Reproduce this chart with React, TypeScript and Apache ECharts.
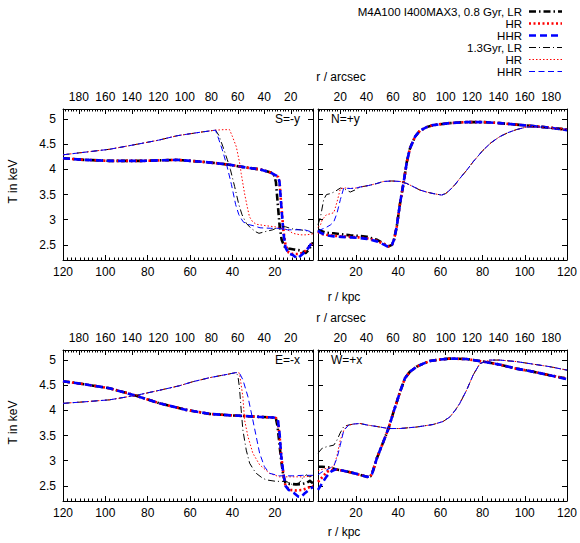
import React, { useEffect, useRef } from 'react';
import * as echarts from 'echarts';

type Pt = [number, number];

const FONT = '"Liberation Sans", Arial, sans-serif';
const R_MIN = 2;
const R_MAX = 120;
const ARCSEC_PER_KPC = 1.6;
const T_MIN = 2.2;
const T_MAX = 5.2;
const kpcTicks = [20, 40, 60, 80, 100, 120];
const arcsecTicks = [20, 40, 60, 80, 100, 120, 140, 160, 180];
const tempTicks = [2.5, 3, 3.5, 4, 4.5, 5];

const legendLabels = ['M4A100 I400MAX3, 0.8 Gyr, LR', 'HR', 'HHR', '1.3Gyr, LR', 'HR', 'HHR'];

// ---------- S = -y ----------
const S_LR08: Pt[] = [[120,4.22],[110,4.19],[98,4.17],[82,4.17],[66,4.19],[54,4.15],[47,4.12],[41,4.09],[34,4.04],[27,4.0],[22,3.94],[20.5,3.9],[19.5,3.75],[18.6,3.3],[17.8,2.9],[16.8,2.6],[15.5,2.47],[13.5,2.43],[11,2.41],[8,2.39],[5.5,2.34],[4,2.4],[2,2.55]];
const S_HR08: Pt[] = [[120,4.22],[110,4.19],[98,4.17],[82,4.17],[66,4.19],[54,4.15],[47,4.12],[41,4.09],[34,4.04],[27,4.0],[22,3.94],[20.5,3.9],[19.5,3.88],[18.5,3.85],[17.8,3.75],[17,3.3],[16,2.8],[15,2.5],[13.5,2.35],[11.5,2.32],[9,2.32],[7,2.34],[5,2.4],[3.5,2.48],[2,2.55]];
const S_HHR08: Pt[] = [[120,4.22],[110,4.19],[98,4.17],[82,4.17],[66,4.19],[54,4.15],[47,4.12],[41,4.09],[34,4.04],[27,4.0],[22,3.94],[20.5,3.9],[19.5,3.88],[18.5,3.86],[17.8,3.75],[17,3.3],[16,2.75],[15,2.45],[13.5,2.33],[11.5,2.3],[9.5,2.23],[8,2.28],[6,2.35],[4,2.45],[2,2.58]];
const S_LR13: Pt[] = [[120,4.29],[110,4.34],[98,4.4],[85,4.5],[75,4.58],[66,4.67],[55,4.74],[48,4.78],[46.5,4.68],[44.5,4.45],[42.5,4.2],[41,4.0],[39,3.66],[37,3.3],[35.5,3.1],[33.5,2.93],[31.5,2.84],[29,2.76],[27.5,2.73],[24,2.77],[21,2.8],[18,2.86],[15,2.86],[12,2.82],[8,2.8],[5,2.78],[2,2.73]];
const S_HR13: Pt[] = [[120,4.29],[110,4.34],[98,4.4],[85,4.5],[75,4.58],[66,4.67],[55,4.74],[48,4.78],[44,4.79],[41.4,4.79],[40,4.65],[38.2,4.45],[36.5,4.1],[35.9,3.92],[34.3,3.52],[33,3.25],[32,3.06],[30.5,2.96],[28.8,2.91],[24,2.88],[20,2.86],[17.8,2.84],[14,2.8],[11.5,2.73],[8,2.7],[5,2.7],[2,2.72]];
const S_HHR13: Pt[] = [[120,4.29],[110,4.34],[98,4.4],[85,4.5],[75,4.58],[66,4.67],[55,4.74],[48,4.78],[46.5,4.6],[44.5,4.35],[42.5,4.05],[40.5,3.7],[38.5,3.3],[37,3.1],[35,2.96],[33,2.91],[30,2.88],[27,2.84],[22,2.83],[18,2.83],[14,2.8],[10,2.8],[6,2.8],[2,2.75]];

// ---------- N = +y ----------
const N_LR08: Pt[] = [[2,2.8],[3.2,2.78],[6,2.74],[9.5,2.73],[13,2.71],[17.3,2.69],[21,2.68],[25.2,2.66],[30,2.6],[33,2.53],[35.4,2.47],[37,2.5],[38,2.6],[39.3,2.86],[40.9,3.33],[42.5,3.72],[44.1,4.15],[45.6,4.42],[48,4.65],[50.3,4.77],[53.5,4.84],[56.6,4.88],[64.5,4.92],[72.4,4.94],[80.2,4.94],[88.1,4.92],[96,4.89],[103.8,4.86],[111.7,4.83],[120,4.79]];
const N_HR08: Pt[] = [[2,2.76],[3.2,2.72],[6,2.7],[9.5,2.68],[13,2.67],[17.3,2.66],[21,2.65],[25.2,2.63],[30,2.58],[33,2.52],[35.4,2.47],[37,2.5],[38,2.6],[39.3,2.86],[40.9,3.33],[42.5,3.72],[44.1,4.15],[45.6,4.42],[48,4.65],[50.3,4.77],[53.5,4.84],[56.6,4.88],[64.5,4.92],[72.4,4.94],[80.2,4.94],[88.1,4.92],[96,4.89],[103.8,4.86],[111.7,4.83],[120,4.79]];
const N_HHR08: Pt[] = [[2,2.78],[3.2,2.74],[6,2.69],[9.5,2.67],[13,2.66],[17.3,2.65],[21,2.64],[25.2,2.62],[30,2.57],[33,2.51],[35.4,2.46],[37,2.5],[38,2.6],[39.3,2.86],[40.9,3.33],[42.5,3.72],[44.1,4.15],[45.6,4.42],[48,4.65],[50.3,4.77],[53.5,4.84],[56.6,4.88],[64.5,4.92],[72.4,4.94],[80.2,4.94],[88.1,4.92],[96,4.89],[103.8,4.86],[111.7,4.83],[120,4.78]];
const N_LR13: Pt[] = [[2,2.9],[3.2,3.06],[4.7,3.4],[6,3.5],[8,3.52],[10,3.56],[12.6,3.63],[15,3.6],[17.3,3.55],[20,3.6],[22,3.65],[26,3.68],[29.9,3.72],[33,3.76],[37,3.77],[40.9,3.76],[44.1,3.72],[47,3.66],[50.3,3.59],[53.5,3.55],[56.6,3.52],[60.6,3.49],[62.5,3.52],[64.5,3.59],[67,3.7],[69.2,3.82],[72.4,3.98],[75.5,4.15],[80.2,4.38],[84,4.53],[88.1,4.65],[92,4.73],[96,4.79],[100.7,4.84],[103.8,4.85],[108,4.84],[111.7,4.82],[120,4.78]];
const N_HR13: Pt[] = [[2,2.85],[3.2,2.9],[4,3.0],[6,3.1],[8,3.12],[9.5,3.14],[11,3.35],[12.6,3.62],[15,3.63],[17.3,3.62],[20,3.63],[22,3.65],[26,3.68],[29.9,3.72],[33,3.76],[37,3.77],[40.9,3.76],[44.1,3.72],[47,3.66],[50.3,3.59],[53.5,3.55],[56.6,3.52],[60.6,3.49],[62.5,3.52],[64.5,3.59],[67,3.7],[69.2,3.82],[72.4,3.98],[75.5,4.15],[80.2,4.38],[84,4.53],[88.1,4.65],[92,4.73],[96,4.79],[100.7,4.84],[103.8,4.85],[108,4.84],[111.7,4.82],[120,4.78]];
const N_HHR13: Pt[] = [[2,2.78],[3.2,2.8],[6,2.85],[8,2.9],[9.5,2.96],[11,3.13],[12.6,3.4],[14.2,3.63],[17.3,3.62],[20,3.63],[22,3.65],[26,3.68],[29.9,3.72],[33,3.76],[37,3.77],[40.9,3.76],[44.1,3.72],[47,3.66],[50.3,3.59],[53.5,3.55],[56.6,3.52],[60.6,3.49],[62.5,3.52],[64.5,3.59],[67,3.7],[69.2,3.82],[72.4,3.98],[75.5,4.15],[80.2,4.38],[84,4.53],[88.1,4.65],[92,4.73],[96,4.79],[100.7,4.84],[103.8,4.85],[108,4.84],[111.7,4.82],[120,4.77]];

// ---------- E = -x ----------
const E_LR08: Pt[] = [[120,4.58],[110,4.52],[98,4.44],[85.4,4.29],[74.4,4.14],[61.8,4.01],[50.8,3.93],[40,3.9],[35,3.89],[27,3.87],[21,3.86],[19.5,3.84],[18.8,3.7],[18,3.4],[17,3.0],[16,2.7],[15,2.56],[13,2.54],[10,2.53],[7,2.54],[5,2.56],[3.5,2.6],[2,2.55]];
const E_HR08: Pt[] = [[120,4.58],[110,4.52],[98,4.44],[85.4,4.29],[74.4,4.14],[61.8,4.01],[50.8,3.93],[40,3.9],[35,3.89],[27,3.87],[21,3.86],[19.5,3.85],[18.6,3.8],[17.8,3.5],[17,3.1],[16,2.75],[15,2.5],[13,2.42],[10,2.41],[7,2.42],[5,2.45],[3.5,2.48],[2,2.5]];
const E_HHR08: Pt[] = [[120,4.58],[110,4.52],[98,4.44],[85.4,4.29],[74.4,4.14],[61.8,4.01],[50.8,3.93],[40,3.9],[35,3.89],[27,3.87],[21,3.86],[19.5,3.85],[18.6,3.82],[17.8,3.55],[17,3.1],[16,2.75],[15,2.5],[13.5,2.42],[11,2.36],[9,2.29],[7.5,2.28],[6,2.35],[4,2.42],[2,2.48]];
const E_LR13: Pt[] = [[120,4.14],[110,4.17],[98,4.21],[85.4,4.3],[74.4,4.4],[65,4.49],[58.7,4.57],[50.8,4.65],[42,4.72],[38.5,4.75],[37.5,4.7],[36.7,4.45],[35.9,4.01],[35.1,3.61],[33.5,3.21],[31.9,2.95],[30,2.82],[28.8,2.75],[26,2.66],[24.1,2.62],[19.4,2.59],[14.6,2.59],[11.5,2.52],[8.5,2.56],[6.8,2.66],[5.2,2.72],[3.5,2.68],[2,2.7]];
const E_HR13: Pt[] = [[120,4.14],[110,4.17],[98,4.21],[85.4,4.3],[74.4,4.4],[65,4.49],[58.7,4.57],[50.8,4.65],[42,4.72],[38.5,4.75],[37.5,4.75],[36.7,4.74],[35.1,4.27],[34.3,3.81],[32.7,3.48],[30.4,3.15],[27.2,2.92],[22.5,2.75],[17.8,2.68],[11.5,2.68],[5.2,2.68],[2,2.71]];
const E_HHR13: Pt[] = [[120,4.14],[110,4.17],[98,4.21],[85.4,4.3],[74.4,4.4],[65,4.49],[58.7,4.57],[50.8,4.65],[42,4.72],[38.5,4.75],[37.5,4.75],[36.7,4.74],[35.1,4.61],[32.7,4.27],[30.4,3.81],[28.8,3.48],[27.2,3.15],[24.9,2.88],[22.5,2.75],[17.8,2.7],[11.5,2.7],[6.8,2.71],[2,2.71]];

// ---------- W = +x ----------
const W_LR08: Pt[] = [[2,2.88],[4,2.88],[6.3,2.87],[8,2.86],[10.3,2.83],[14,2.8],[17.3,2.77],[22,2.72],[25.2,2.68],[26.8,2.69],[27.6,2.74],[28.8,2.9],[29.9,3.05],[33,3.38],[35.4,3.64],[37.8,3.97],[40.9,4.37],[43.2,4.64],[45.6,4.77],[48.8,4.87],[51.9,4.93],[55,4.98],[59.8,5.01],[64.5,5.03],[72.4,5.02],[80.2,4.97],[88.1,4.91],[96,4.83],[103.8,4.77],[111.7,4.7],[120,4.63]];
const W_HR08: Pt[] = [[2,2.58],[3.5,2.65],[5,2.72],[6.3,2.78],[8,2.81],[10.3,2.83],[14,2.8],[17.3,2.77],[22,2.72],[25.2,2.68],[26.8,2.69],[27.6,2.74],[28.8,2.9],[29.9,3.05],[33,3.38],[35.4,3.64],[37.8,3.97],[40.9,4.37],[43.2,4.64],[45.6,4.77],[48.8,4.87],[51.9,4.93],[55,4.98],[59.8,5.01],[64.5,5.03],[72.4,5.02],[80.2,4.97],[88.1,4.91],[96,4.83],[103.8,4.77],[111.7,4.7],[120,4.63]];
const W_HHR08: Pt[] = [[2,2.42],[3.5,2.52],[5,2.62],[6.3,2.7],[7.9,2.78],[10.3,2.83],[14,2.8],[17.3,2.77],[22,2.72],[25.2,2.68],[26.8,2.69],[27.6,2.74],[28.8,2.9],[29.9,3.05],[33,3.38],[35.4,3.64],[37.8,3.97],[40.9,4.37],[43.2,4.64],[45.6,4.77],[48.8,4.87],[51.9,4.93],[55,4.98],[59.8,5.01],[64.5,5.03],[72.4,5.02],[80.2,4.97],[88.1,4.91],[96,4.83],[103.8,4.77],[111.7,4.7],[120,4.62]];
const W_LR13: Pt[] = [[2,3.15],[4,3.25],[6.3,3.28],[9.5,3.31],[11,3.41],[12.5,3.55],[14.2,3.68],[16.6,3.71],[19,3.73],[22,3.74],[25.2,3.71],[29.9,3.68],[35.4,3.64],[40.9,3.64],[48.8,3.67],[56.6,3.72],[61.3,3.78],[64.5,3.87],[67,4.0],[69.2,4.14],[72.4,4.4],[75.5,4.7],[78.7,4.93],[83.4,5.0],[88.1,5.0],[96,4.97],[103.8,4.92],[111.7,4.87],[120,4.8]];
const W_HR13: Pt[] = [[2,2.8],[4,2.83],[6.3,2.85],[9.5,2.88],[11,3.1],[12.5,3.4],[14.2,3.6],[15.8,3.7],[19,3.73],[22,3.74],[25.2,3.71],[29.9,3.68],[35.4,3.64],[40.9,3.64],[48.8,3.67],[56.6,3.72],[61.3,3.78],[64.5,3.87],[67,4.0],[69.2,4.14],[72.4,4.4],[75.5,4.7],[78.7,4.93],[83.4,5.0],[88.1,5.0],[96,4.97],[103.8,4.92],[111.7,4.87],[120,4.8]];
const W_HHR13: Pt[] = [[2,2.72],[4,2.78],[6.3,2.82],[7.9,2.86],[9.5,2.9],[11,3.05],[12.5,3.3],[14.2,3.6],[16.6,3.71],[19,3.73],[22,3.74],[25.2,3.71],[29.9,3.68],[35.4,3.64],[40.9,3.64],[48.8,3.67],[56.6,3.72],[61.3,3.78],[64.5,3.87],[67,4.0],[69.2,4.14],[72.4,4.4],[75.5,4.7],[78.7,4.93],[83.4,5.0],[88.1,5.0],[96,4.97],[103.8,4.92],[111.7,4.87],[120,4.8]];

const panels = [
  { label: 'S=-y', inverse: true, left: 63, top: 109, series: [S_LR08, S_HR08, S_HHR08, S_LR13, S_HR13, S_HHR13] },
  { label: 'N=+y', inverse: false, left: 318, top: 109, series: [N_LR08, N_HR08, N_HHR08, N_LR13, N_HR13, N_HHR13] },
  { label: 'E=-x', inverse: true, left: 63, top: 350, series: [E_LR08, E_HR08, E_HHR08, E_LR13, E_HR13, E_HHR13] },
  { label: 'W=+x', inverse: false, left: 318, top: 350, series: [W_LR08, W_HR08, W_HHR08, W_LR13, W_HR13, W_HHR13] },
];

const PANEL_W = 250;
const PANEL_H = 151;

const lineStyles = [
  { color: '#000000', width: 2.6, dash: [7, 3, 1.5, 3] },
  { color: '#ff0000', width: 2.6, dash: [2, 2.5] },
  { color: '#0000ff', width: 2.6, dash: [7, 4] },
  { color: '#000000', width: 1, dash: [7, 3, 1, 3] },
  { color: '#ff0000', width: 1, dash: [1.5, 2] },
  { color: '#0000ff', width: 1, dash: [6, 3.5] },
];

function minorValues(lo: number, hi: number, step: number, majorStep: number): number[] {
  const out: number[] = [];
  for (let v = Math.ceil(lo / step) * step; v <= hi + 1e-9; v += step) {
    if (Math.abs(v / majorStep - Math.round(v / majorStep)) > 1e-6) out.push(Number(v.toFixed(3)));
  }
  return out;
}

export default function App() {
  const ref = useRef<HTMLDivElement>(null);
  useEffect(() => {
    if (!ref.current) return;
    const chart = echarts.init(ref.current, null, { renderer: 'svg' });
    const grid: any[] = [];
    const xAxis: any[] = [];
    const yAxis: any[] = [];
    const series: any[] = [];
    const graphic: any[] = [];
    const axisLine = { show: true, onZero: false, lineStyle: { color: '#000', width: 1 } };
    const labelStyle = { fontFamily: FONT, fontSize: 12, color: '#000' };
    const arcMin = R_MIN * ARCSEC_PER_KPC;
    const arcMax = R_MAX * ARCSEC_PER_KPC;
    const kpcMinor = minorValues(R_MIN, R_MAX, 2, 20);
    const arcMinor = minorValues(arcMin, arcMax, 2, 20);
    const textStyle = (text: string, align: string, size = 12) => ({
      text, textAlign: align, textVerticalAlign: 'middle', font: `${size}px ${FONT}`, fill: '#000', lineHeight: size,
    });

    panels.forEach((p, i) => {
      const isLeft = p.inverse;
      grid.push({ left: p.left, top: p.top, width: PANEL_W, height: PANEL_H, containLabel: false });
      xAxis.push({
        type: 'value', gridIndex: i, position: 'bottom', min: R_MIN, max: R_MAX, inverse: p.inverse,
        axisLine, splitLine: { show: false },
        axisTick: { show: true, inside: true, length: 5, customValues: kpcTicks, lineStyle: { color: '#000' } },
        axisLabel: { show: true, margin: 6, customValues: kpcTicks, ...labelStyle },
      });
      xAxis.push({
        type: 'value', gridIndex: i, position: 'bottom', min: R_MIN, max: R_MAX, inverse: p.inverse,
        axisLine: { show: false }, splitLine: { show: false }, axisLabel: { show: false },
        axisTick: { show: true, inside: true, length: 2.5, customValues: kpcMinor, lineStyle: { color: '#000' } },
      });
      xAxis.push({
        type: 'value', gridIndex: i, position: 'top', min: arcMin, max: arcMax, inverse: p.inverse,
        axisLine, splitLine: { show: false },
        axisTick: { show: true, inside: true, length: 5, customValues: arcsecTicks, lineStyle: { color: '#000' } },
        axisLabel: { show: true, margin: 6, customValues: arcsecTicks, ...labelStyle },
      });
      xAxis.push({
        type: 'value', gridIndex: i, position: 'top', min: arcMin, max: arcMax, inverse: p.inverse,
        axisLine: { show: false }, splitLine: { show: false }, axisLabel: { show: false },
        axisTick: { show: true, inside: true, length: 2.5, customValues: arcMinor, lineStyle: { color: '#000' } },
      });
      yAxis.push({
        type: 'value', gridIndex: i, position: 'left', min: T_MIN, max: T_MAX,
        axisLine, splitLine: { show: false },
        axisTick: { show: true, inside: true, length: 5, customValues: tempTicks, lineStyle: { color: '#000' } },
        axisLabel: { show: isLeft, margin: 7, customValues: tempTicks, ...labelStyle },
      });
      yAxis.push({
        type: 'value', gridIndex: i, position: 'right', min: T_MIN, max: T_MAX,
        axisLine, splitLine: { show: false },
        axisTick: { show: true, inside: true, length: 5, customValues: tempTicks, lineStyle: { color: '#000' } },
        axisLabel: { show: false },
      });
      p.series.forEach((d, k) => {
        const st = lineStyles[k];
        series.push({
          type: 'line', name: `${p.label} ${legendLabels[k]} ${k}`,
          xAxisIndex: i * 4, yAxisIndex: i * 2, data: d,
          showSymbol: false, symbol: 'none', clip: true,
          z: 2 + k,
          lineStyle: { color: st.color, width: st.width, type: st.dash, cap: 'butt', join: 'round' },
        });
      });
      graphic.push({
        type: 'text', x: isLeft ? p.left + 237 : p.left + 13, y: p.top + 10,
        style: textStyle(p.label, isLeft ? 'right' : 'left'),
      });
    });

    [109, 350].forEach((top, j) => {
      graphic.push({ type: 'text', x: 341, y: top - 32, style: textStyle('r / arcsec', 'center') });
      graphic.push({ type: 'text', x: 344, y: top + PANEL_H + (j === 0 ? 37 : 31), style: textStyle('r / kpc', 'center') });
      graphic.push({
        type: 'text', x: 13, y: top + PANEL_H / 2 - 3, rotation: Math.PI / 2,
        style: textStyle('T in keV', 'center'),
      });
    });

    const keyY = [11.5, 23.5, 35.5, 47.5, 59.5, 71.5];
    legendLabels.forEach((t, k) => {
      const st = lineStyles[k];
      graphic.push({ type: 'text', x: 522, y: keyY[k], style: textStyle(t, 'right', 11.5) });
      graphic.push({
        type: 'line', z: 10, shape: { x1: 529, y1: keyY[k], x2: 562, y2: keyY[k] },
        style: { stroke: st.color, lineWidth: st.width, lineDash: st.dash, fill: null },
      });
    });

    chart.setOption({
      animation: false,
      backgroundColor: '#ffffff',
      textStyle: { fontFamily: FONT },
      grid, xAxis, yAxis, series, graphic,
    });
    return () => chart.dispose();
  }, []);
  return <div ref={ref} style={{ position: 'fixed', left: 0, top: 0, width: 580, height: 543 }} />;
}
